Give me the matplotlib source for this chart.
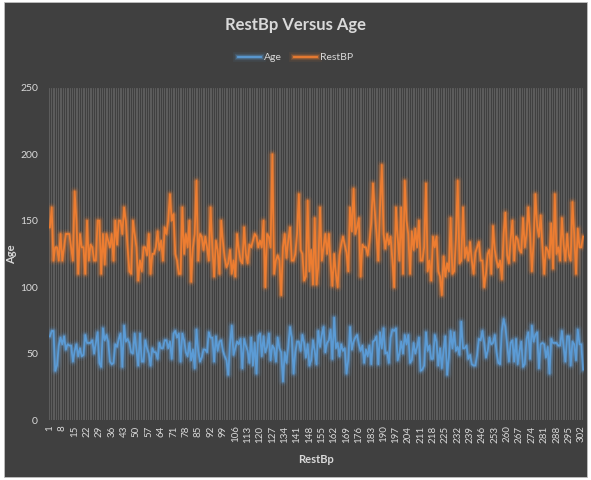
import matplotlib
matplotlib.use('Agg')
import matplotlib.pyplot as plt
import matplotlib.patheffects as pe
from matplotlib.patches import Rectangle
import numpy as np

# patient records, in file order
age = [63, 67, 67, 37, 41, 56, 62, 57, 63, 53, 57, 56, 56, 44, 52, 57, 48, 54, 48, 49,
       64, 58, 58, 58, 60, 50, 58, 66, 43, 40, 69, 60, 64, 59, 44, 42, 43, 57, 55, 61,
       65, 40, 71, 59, 61, 58, 51, 50, 65, 53, 41, 65, 44, 44, 60, 54, 50, 41, 54, 51,
       51, 46, 58, 54, 54, 60, 60, 54, 59, 46, 65, 67, 62, 65, 44, 65, 60, 51, 48, 58,
       45, 53, 39, 68, 52, 44, 47, 53, 53, 51, 66, 62, 62, 44, 63, 52, 59, 60, 52, 48,
       45, 34, 57, 71, 49, 54, 59, 57, 61, 39, 61, 56, 52, 43, 62, 41, 58, 35, 63, 65,
       48, 63, 51, 55, 65, 45, 56, 54, 44, 62, 54, 51, 29, 51, 43, 55, 70, 62, 35, 51,
       59, 59, 52, 64, 58, 47, 57, 41, 45, 60, 52, 42, 67, 55, 64, 70, 51, 58, 60, 68,
       46, 77, 54, 58, 48, 57, 52, 54, 35, 45, 70, 53, 59, 62, 64, 57, 52, 56, 43, 53,
       48, 56, 42, 59, 60, 63, 42, 66, 54, 69, 50, 51, 43, 62, 68, 67, 69, 45, 50, 59,
       50, 64, 57, 64, 43, 45, 58, 50, 55, 62, 37, 38, 41, 66, 52, 56, 46, 46, 64, 59,
       41, 54, 39, 53, 63, 34, 47, 67, 54, 66, 52, 55, 49, 74, 54, 54, 56, 46, 49, 42,
       41, 41, 49, 61, 60, 67, 58, 47, 52, 62, 57, 58, 64, 51, 43, 42, 67, 76, 70, 57,
       44, 58, 60, 44, 61, 42, 52, 59, 40, 42, 61, 66, 46, 71, 59, 64, 66, 39, 57, 58,
       57, 47, 55, 35, 61, 58, 58, 58, 56, 56, 67, 55, 44, 63, 63, 41, 59, 57, 45, 68,
       57, 57, 38]

restbp = [145, 160, 120, 130, 130, 120, 140, 120, 130, 140, 140, 140, 130, 120, 172, 150, 110, 140, 130, 130,
          110, 150, 120, 132, 130, 120, 120, 150, 150, 110, 140, 117, 140, 135, 130, 140, 120, 150, 132, 150,
          150, 140, 160, 150, 130, 112, 110, 150, 140, 130, 105, 120, 112, 130, 130, 124, 140, 110, 125, 125,
          130, 142, 128, 135, 120, 145, 140, 150, 170, 150, 155, 125, 120, 110, 110, 160, 125, 140, 130, 150,
          104, 130, 140, 180, 120, 140, 138, 128, 138, 130, 120, 160, 130, 108, 135, 128, 110, 150, 134, 122,
          115, 118, 128, 110, 120, 108, 140, 128, 120, 118, 145, 125, 118, 132, 130, 135, 140, 138, 130, 135,
          130, 150, 100, 140, 138, 130, 200, 110, 120, 124, 120, 94, 130, 140, 122, 135, 145, 120, 120, 125,
          140, 170, 128, 125, 105, 108, 165, 112, 128, 102, 152, 102, 115, 160, 120, 130, 140, 125, 140, 118,
          101, 125, 110, 100, 124, 132, 138, 132, 126, 112, 160, 142, 174, 140, 145, 152, 108, 132, 130, 130,
          124, 134, 148, 178, 158, 140, 120, 160, 192, 140, 129, 140, 132, 138, 120, 100, 160, 138, 120, 160,
          110, 180, 150, 140, 110, 142, 128, 144, 130, 150, 120, 120, 130, 178, 112, 120, 105, 138, 130, 138,
          112, 108, 94, 123, 108, 118, 112, 152, 110, 112, 136, 180, 118, 120, 160, 122, 130, 120, 134, 120,
          110, 126, 130, 134, 120, 120, 100, 110, 125, 128, 110, 146, 128, 120, 115, 120, 106, 140, 156, 124,
          118, 136, 150, 120, 138, 136, 128, 126, 152, 130, 140, 160, 140, 112, 134, 170, 146, 138, 154, 130,
          110, 130, 128, 122, 148, 114, 170, 125, 130, 120, 152, 132, 120, 140, 124, 120, 164, 140, 110, 144,
          130, 130, 138]

series = [('Age', age, '#5B9BD5'), ('RestBP', restbp, '#ED7D31')]
tick_step = 7

bg = '#404040'
txt = '#d9d9d9'
plt.rcParams['font.family'] = ['Lato', 'DejaVu Sans']

x = np.arange(1, len(age) + 1)

fig = plt.figure(figsize=(5.91, 4.80), dpi=100, facecolor='white')
# dark chart area inside a thin light frame
fig.patches.append(Rectangle((0.007, 0.006), 0.986, 0.99, transform=fig.transFigure,
                             facecolor=bg, edgecolor='#bfbfbf', lw=0.6, zorder=-1))

ax = fig.add_axes([0.083, 0.125, 0.905, 0.692])
ax.set_facecolor(bg)

for name, vals, col in series:
    glow = [pe.Stroke(linewidth=7, foreground=col, alpha=0.08),
            pe.Stroke(linewidth=4.5, foreground=col, alpha=0.18),
            pe.Stroke(linewidth=2.8, foreground=col, alpha=0.35),
            pe.Normal()]
    ax.plot(x, vals, color=col, lw=1.3, label=name, path_effects=glow, zorder=3)

ax.set_xlim(0.5, len(x) + 0.5)
ax.set_ylim(0, 250)
ax.set_yticks(np.arange(0, 251, 50))
ax.set_xticks(x[::tick_step])
ax.set_xticklabels([str(v) for v in x[::tick_step]], rotation=90)
# one gridline per category boundary
ax.set_xticks(np.arange(0.5, len(x) + 1, 1), minor=True)
ax.grid(which='minor', axis='x', color='#6a6a6a', lw=0.6, alpha=0.8)
ax.tick_params(which='both', length=0, colors=txt)
ax.tick_params(axis='x', labelsize=7, pad=4)
ax.tick_params(axis='y', labelsize=7.5, pad=8)
for s in ax.spines.values():
    s.set_visible(False)

ax.set_xlabel('RestBp', color=txt, fontsize=8, fontweight='bold', labelpad=8)
ax.set_ylabel('Age', color=txt, fontsize=8, fontweight='bold')
ax.yaxis.set_label_coords(-0.06, 0.5)
fig.suptitle('RestBp Versus Age', x=0.5, y=0.965, color=txt, fontsize=12, fontweight='bold')

leg = fig.legend(loc='center', bbox_to_anchor=(0.5, 0.88), ncol=2, frameon=False,
                 fontsize=7.5, handlelength=2.2, columnspacing=1.2, handletextpad=0.3)
for t in leg.get_texts():
    t.set_color(txt)

fig.savefig('out.png', dpi=100, facecolor='white')
